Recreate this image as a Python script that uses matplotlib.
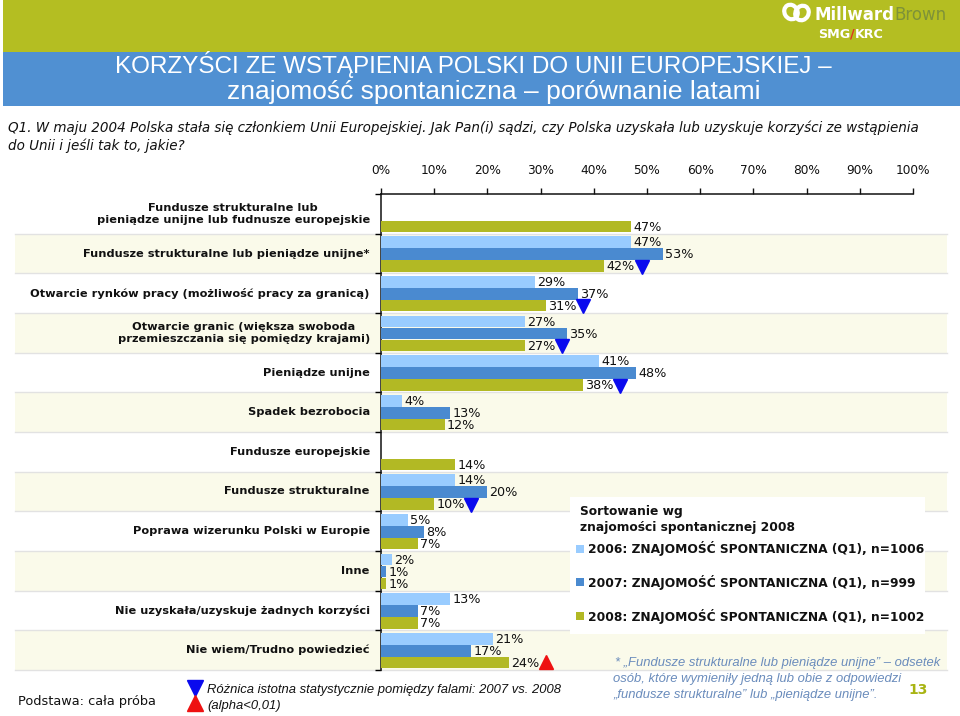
import matplotlib
matplotlib.use("Agg")
import matplotlib.pyplot as plt
from matplotlib import font_manager
from matplotlib.patches import Rectangle, Ellipse
from matplotlib.transforms import blended_transform_factory

# ---------------- data ----------------
categories = [
    "Fundusze strukturalne lub\npieniądze unijne lub fudnusze europejskie",
    "Fundusze strukturalne lub pieniądze unijne*",
    "Otwarcie rynków pracy (możliwość pracy za granicą)",
    "Otwarcie granic (większa swoboda\nprzemieszczania się pomiędzy krajami)",
    "Pieniądze unijne",
    "Spadek bezrobocia",
    "Fundusze europejskie",
    "Fundusze strukturalne",
    "Poprawa wizerunku Polski w Europie",
    "Inne",
    "Nie uzyskała/uzyskuje żadnych korzyści",
    "Nie wiem/Trudno powiedzieć",
]
values_2006 = [None, 47, 29, 27, 41, 4, None, 14, 5, 2, 13, 21]
values_2007 = [None, 53, 37, 35, 48, 13, None, 20, 8, 1, 7, 17]
values_2008 = [47, 42, 31, 27, 38, 12, 14, 10, 7, 1, 7, 24]
sig_2008 = ["", "down", "down", "down", "down", "", "", "down", "", "", "", "up"]

series_labels = [
    "2006: ZNAJOMOŚĆ SPONTANICZNA (Q1), n=1006",
    "2007: ZNAJOMOŚĆ SPONTANICZNA (Q1), n=999",
    "2008: ZNAJOMOŚĆ SPONTANICZNA (Q1), n=1002",
]
x_ticks = [0, 10, 20, 30, 40, 50, 60, 70, 80, 90, 100]

# ---------------- styles ----------------
C_LIGHT = "#99CCFF"
C_MID = "#4A8AD0"
C_OLIVE = "#B2B924"
C_HEAD_GREEN = "#B4BE22"
C_HEAD_BLUE = "#5090D2"
C_CREAM = "#FAFAEA"
C_SEP = "#E2E2E2"

names = {f.name for f in font_manager.fontManager.ttflist}
NARROW = "Liberation Sans Narrow" if "Liberation Sans Narrow" in names else "Liberation Sans"

W, H = 960, 716
fig = plt.figure(figsize=(W / 100, H / 100), dpi=100)
fig.patch.set_facecolor("white")

# main axes
x0, x1, y0, y1 = 381, 913, 194, 670
ax = fig.add_axes([x0 / W, 1 - y1 / H, (x1 - x0) / W, (y1 - y0) / H])
n = len(categories)
ax.set_xlim(0, 100)
ax.set_ylim(n - 0.5, -0.5)
ax.patch.set_alpha(0)

trans = blended_transform_factory(fig.transFigure, ax.transData)
for i in range(n):
    if i % 2 == 1:
        ax.add_patch(Rectangle((15 / W, i - 0.5), (947 - 15) / W, 1.0, transform=trans,
                               facecolor=C_CREAM, edgecolor="none", zorder=0, clip_on=False))
    ax.plot([15 / W, 947 / W], [i + 0.5, i + 0.5], transform=trans, color=C_SEP,
            lw=1.0, zorder=0.5, clip_on=False)

offsets = [-0.285, 0.015, 0.315]
bh = 0.29
for vals, off, col in zip([values_2006, values_2007, values_2008], offsets,
                          [C_LIGHT, C_MID, C_OLIVE]):
    ys = [i + off for i, v in enumerate(vals) if v is not None]
    vs = [v for v in vals if v is not None]
    ax.barh(ys, vs, height=bh, color=col, zorder=3)
    for y, v in zip(ys, vs):
        ax.text(v + 0.4, y + 0.02, f"{v}%", va="center", ha="left", fontsize=9.2,
                color="#111111", zorder=4)

for i, (v, s) in enumerate(zip(values_2008, sig_2008)):
    if s == "down":
        ax.plot(v + 7, i + offsets[2] + 0.02, marker="v", ms=10.5, color="#0A0AEE",
                zorder=5, clip_on=False)
    elif s == "up":
        ax.plot(v + 7, i + offsets[2] - 0.02, marker="^", ms=10.5, color="#EE1111",
                zorder=5, clip_on=False)

for i, c in enumerate(categories):
    ax.text(-2.1, i, c, ha="right", va="center", multialignment="center",
            fontsize=8.2, fontweight="bold", color="#111111")

ax.xaxis.tick_top()
ax.set_xticks(x_ticks)
ax.set_xticklabels([f"{t}%" for t in x_ticks])
ax.tick_params(axis="x", direction="out", length=4, width=1, pad=8, labelsize=8.7,
               colors="#111111")
ax.set_yticks([])
ax.set_yticks([i - 0.5 for i in range(n + 1)], minor=True)
ax.tick_params(axis="y", which="minor", direction="out", length=4, width=1)
for sp in ["bottom", "right"]:
    ax.spines[sp].set_visible(False)
for sp in ["top", "left"]:
    ax.spines[sp].set_color("#111111")
    ax.spines[sp].set_linewidth(1.1)

# overlay in pixel coordinates
ov = fig.add_axes([0, 0, 1, 1], zorder=10)
ov.set_xlim(0, W)
ov.set_ylim(H, 0)
ov.axis("off")
ov.patch.set_alpha(0)

ov.add_patch(Rectangle((3, 0), W - 3, 52, facecolor=C_HEAD_GREEN, edgecolor="none"))
ov.add_patch(Rectangle((3, 52), W - 3, 54, facecolor=C_HEAD_BLUE, edgecolor="none"))
ov.text(473, 64, "KORZYŚCI ZE WSTĄPIENIA POLSKI DO UNII EUROPEJSKIEJ –", ha="center",
        va="center", color="white", fontsize=17.5, family=[NARROW, "DejaVu Sans"])
ov.text(494, 92.5, "znajomość spontaniczna – porównanie latami", ha="center",
        va="center", color="white", fontsize=19, family=[NARROW, "DejaVu Sans"])

# logo
ov.add_patch(Ellipse((791, 12), 13, 15, angle=-30, facecolor="none", edgecolor="white", lw=3))
ov.add_patch(Ellipse((802, 13), 13, 15, angle=30, facecolor="none", edgecolor="white", lw=3))
fig.canvas.draw()
renderer = fig.canvas.get_renderer()


def chain(x, y, parts, size):
    """Place consecutive text pieces side by side."""
    for txt, col, wt in parts:
        t = ov.text(x, y, txt, ha="left", va="center", color=col, fontsize=size,
                    fontweight=wt, family=["DejaVu Sans"])
        bb = t.get_window_extent(renderer=renderer)
        x += bb.width * W / fig.bbox.width


chain(814, 15, [("Millward", "white", "bold"), ("Brown", "#7E9238", "normal")], 12)
chain(818, 34, [("SMG", "white", "bold"), ("/", "#E03020", "bold"),
                ("KRC", "white", "bold")], 9.2)

# question
qkw = dict(ha="left", va="center", fontsize=9.75, style="italic", color="#111111")
ov.text(8, 128, "Q1. W maju 2004 Polska stała się członkiem Unii Europejskiej. Jak Pan(i) "
        "sądzi, czy Polska uzyskała lub uzyskuje korzyści ze wstąpienia", **qkw)
ov.text(8, 146, "do Unii i jeśli tak to, jakie?", **qkw)

# legend box
ov.add_patch(Rectangle((570, 497), 355, 137, facecolor="white", edgecolor="none"))
ov.text(580, 512, "Sortowanie wg", ha="left", va="center", fontsize=8.8,
        fontweight="bold", color="#111111")
ov.text(580, 528, "znajomości spontanicznej 2008", ha="left", va="center", fontsize=8.8,
        fontweight="bold", color="#111111")
for yy, col, lab in zip([549, 582, 616], [C_LIGHT, C_MID, C_OLIVE], series_labels):
    ov.add_patch(Rectangle((576, yy - 4), 8, 8, facecolor=col, edgecolor="none"))
    ov.text(588, yy, lab, ha="left", va="center", fontsize=8.85, fontweight="bold",
            color="#111111")

# footnote
fkw = dict(ha="left", va="center", fontsize=9.4, style="italic", color="#6A8CBC",
           family=["Liberation Sans", "DejaVu Sans"])
ov.text(615, 663, "* „Fundusze strukturalne lub pieniądze unijne” – odsetek", **fkw)
ov.text(613, 679, "osób, które wymieniły jedną lub obie z odpowiedzi", **fkw)
ov.text(613, 695, "„fundusze strukturalne” lub „pieniądze unijne”.", **fkw)
ov.text(918, 690, "13", ha="center", va="center", fontsize=10, fontweight="bold",
        color="#A8B412")

# bottom notes
ov.text(18, 702, "Podstawa: cała próba", ha="left", va="center", fontsize=9.3,
        color="#111111")
ov.plot(195, 688, marker="v", ms=11, color="#0A0AEE")
ov.plot(195, 703, marker="^", ms=11, color="#EE1111")
skw = dict(ha="left", va="center", fontsize=9.4, style="italic", color="#111111",
           family=["Liberation Sans", "DejaVu Sans"])
ov.text(207, 690, "Różnica istotna statystycznie pomiędzy falami: 2007 vs. 2008", **skw)
ov.text(207, 706, "(alpha<0,01)", **skw)

fig.savefig("out.png", dpi=100)
